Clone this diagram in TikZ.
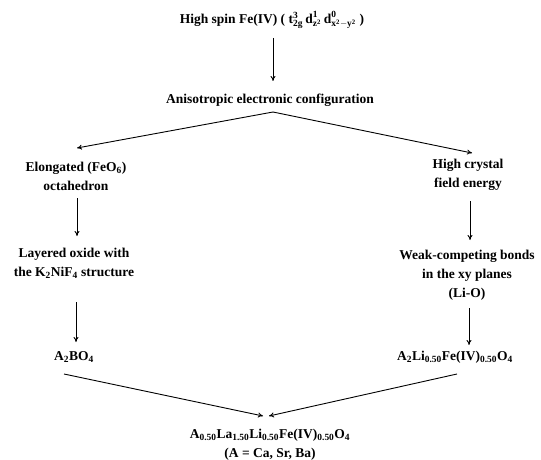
\documentclass[tikz,border=0pt]{standalone}
\usepackage{amsmath}
\usepackage{fontspec}
\setmainfont{Liberation Serif}
\usetikzlibrary{arrows.meta}
\tikzset{
  txt/.style={font=\bfseries\fontsize{13.5}{19}\selectfont, align=center, inner sep=2pt},
  conn/.style={-{To[length=5pt,width=5pt]}, line width=0.9pt},
}
\newcommand{\bx}[1]{\text{\bfseries #1}}
\begin{document}
\begin{tikzpicture}[x=1pt,y=-1pt]
\useasboundingbox (0,0) rectangle (541,460);
\node[txt] (top) at (272,20) {High spin Fe(IV) ( $\bx{t}^{\bx{3}}_{\bx{2g}}\,\bx{d}^{\bx{1}}_{\bx{z}^{\bx{2}}}\,\bx{d}^{\bx{0}}_{\bx{x}^{\bx{2}}-\bx{y}^{\bx{2}}}$ )};
\node[txt] (aniso) at (270,100) {Anisotropic electronic configuration};
\node[txt] (elong) at (76,176) {Elongated (FeO\textsubscript{6})\\octahedron};
\node[txt] (cryst) at (468,175) {High crystal\\field energy};
\node[txt] (layer) at (74,263) {Layered oxide with\\the K\textsubscript{2}NiF\textsubscript{4} structure};
\node[txt] (weak) at (467,275) {Weak-competing bonds\\in the xy planes\\(Li-O)};
\node[txt] (abo) at (74,357) {A\textsubscript{2}BO\textsubscript{4}};
\node[txt] (ali) at (455,357) {A\textsubscript{2}Li\textsubscript{0.50}Fe(IV)\textsubscript{0.50}O\textsubscript{4}};
\node[txt] (final) at (270,445) {A\textsubscript{0.50}La\textsubscript{1.50}Li\textsubscript{0.50}Fe(IV)\textsubscript{0.50}O\textsubscript{4}\\(A = Ca, Sr, Ba)};

\coordinate (t1) at (273,38);   \coordinate (t2) at (273,81);
\coordinate (apex) at (273,112);
\coordinate (e0) at (77,148);   \coordinate (c0) at (472,153);
\coordinate (e1) at (77,198);   \coordinate (e2) at (77,236);
\coordinate (c1) at (470,201);  \coordinate (c2) at (470,240);
\coordinate (l1) at (76,302);   \coordinate (l2) at (76,342);
\coordinate (w1) at (469,308);  \coordinate (w2) at (469,345);
\coordinate (b1) at (64,374);   \coordinate (b2) at (263,416);
\coordinate (r1) at (457,374);  \coordinate (r2) at (269,416);

\draw[conn] (t1) -- (t2);
\draw[conn] (apex) -- (e0);
\draw[conn] (apex) -- (c0);
\draw[conn] (e1) -- (e2);
\draw[conn] (c1) -- (c2);
\draw[conn] (l1) -- (l2);
\draw[conn] (w1) -- (w2);
\draw[conn] (b1) -- (b2);
\draw[conn] (r1) -- (r2);
\end{tikzpicture}
\end{document}
